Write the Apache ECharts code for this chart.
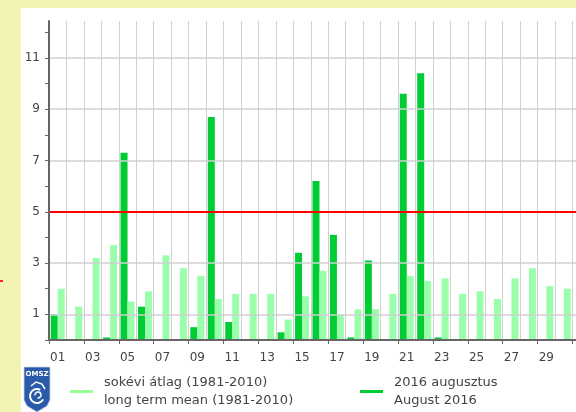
<!DOCTYPE html>
<html><head><meta charset="utf-8">
<script src="https://cdn.jsdelivr.net/npm/echarts@6/dist/echarts.min.js"></script>
<style>html,body{margin:0;padding:0;background:#fff}#c{width:576px;height:412px}</style>
</head><body><div id="c"></div>
<script>
const days = ['01','02','03','04','05','06','07','08','09','10','11','12','13','14','15','16','17','18','19','20','21','22','23','24','25','26','27','28','29','30','31'];
const aug2016 = [1.0,0,0,0.1,7.3,1.3,0,0,0.5,8.7,0.7,0,0,0.3,3.4,6.2,4.1,0.1,3.1,0,9.6,10.4,0.1,0,0,0,0,0,0,0,0];
const longTermMean = [2.0,1.3,3.2,3.7,1.5,1.9,3.3,2.8,2.5,1.6,1.8,1.8,1.8,0.8,1.7,2.7,1.0,1.2,1.2,1.8,2.5,2.3,2.4,1.8,1.9,1.6,2.4,2.8,2.1,2.0,2.0];
const gridValues = [1,3,7,9,11];
const thresholdValue = 5;
const nameMean = 'sokévi átlag (1981-2010)\nlong term mean (1981-2010)';
const nameAug = '2016 augusztus\nAugust 2016';

const chart = echarts.init(document.getElementById('c'), null, {renderer:'canvas'});
const font = 'DejaVu Sans';
const noZero = arr => arr.map(v => v === 0 ? null : v);
chart.setOption({
  animation:false,
  backgroundColor:'#ffffff',
  textStyle:{fontFamily:font},
  graphic:[
    {type:'rect',shape:{x:0,y:0,width:576,height:8},style:{fill:'#f3f3b3'},z:-10,silent:true},
    {type:'rect',shape:{x:0,y:0,width:21,height:412},style:{fill:'#f3f3b3'},z:-10,silent:true},
    {type:'rect',shape:{x:0,y:280,width:3,height:2},style:{fill:'#ff2020'},silent:true},
    {type:'polygon',shape:{points:[[24,367],[50,367],[50,400],[47,406],[37,412],[27,406],[24,400]]},style:{fill:'#2a5aa8',stroke:'#c8d4ea',lineWidth:0.8},silent:true},
    {type:'text',x:37,y:374,style:{text:'OMSZ',fill:'#ffffff',font:'bold 7px "DejaVu Sans"',align:'center',verticalAlign:'middle'},silent:true},
    {type:'arc',shape:{cx:37,cy:396,r:7,startAngle:0.5,endAngle:5.2},style:{stroke:'#ffffff',lineWidth:2,fill:null},silent:true},
    {type:'arc',shape:{cx:38,cy:395,r:3,startAngle:3,endAngle:8},style:{stroke:'#ffffff',lineWidth:1.5,fill:null},silent:true},
    {type:'polyline',shape:{points:[[31,386],[36,382],[42,384],[45,389]]},style:{stroke:'#ffffff',lineWidth:1.5},silent:true}
  ],
  legend:[
    {data:[{name:nameMean,itemStyle:{color:'#99ff99'}}],left:70,top:374,padding:0,icon:'rect',itemWidth:23,itemHeight:3,
     textStyle:{fontFamily:font,fontSize:13,color:'#444',lineHeight:17.5,padding:[0,0,0,6]},selectedMode:false},
    {data:[{name:nameAug,itemStyle:{color:'#00cc33'}}],left:360,top:374,padding:0,icon:'rect',itemWidth:23,itemHeight:3,
     textStyle:{fontFamily:font,fontSize:13,color:'#444',lineHeight:17.5,padding:[0,0,0,6]},selectedMode:false}
  ],
  grid:{left:49,width:541,top:21,height:319,containLabel:false,outerBoundsMode:'none'},
  xAxis:[
    {type:'category',data:days,boundaryGap:true,z:0,
     axisLine:{show:false},axisTick:{show:false},axisLabel:{show:false},
     splitLine:{show:true,interval:0,lineStyle:{color:'#d0d0d0',width:1}}},
    {type:'category',data:days,boundaryGap:true,position:'bottom',z:6,
     axisLine:{show:true,lineStyle:{color:'#666',width:2}},
     axisTick:{show:true,interval:1,length:4,lineStyle:{color:'#666'}},
     axisLabel:{interval:(i)=> i%2===0 && i<30,color:'#444',fontFamily:font,fontSize:12,margin:12},
     splitLine:{show:false}}
  ],
  yAxis:{type:'value',min:0,max:12.44,interval:1,z:6,
    axisLine:{show:true,lineStyle:{color:'#666',width:2}},
    axisTick:{show:true,length:4,lineStyle:{color:'#666'}},
    axisLabel:{color:'#444',fontFamily:font,fontSize:12,margin:9,showMaxLabel:false,
      formatter:v=> (Math.round(v)===v && v%2===1) ? String(v) : ''},
    splitLine:{show:false}
  },
  series:[
    {type:'line',name:'grid',data:[],z:1,silent:true,
     markLine:{silent:true,symbol:'none',label:{show:false},animation:false,
       lineStyle:{color:'#d0d0d0',type:'solid',width:1.5},
       data:gridValues.map(v=>({yAxis:v}))}},
    {type:'bar',name:nameAug,data:noZero(aug2016),barWidth:7,barGap:'0%',z:3,
     itemStyle:{color:'#00cc33'}},
    {type:'bar',name:nameMean,data:noZero(longTermMean),barWidth:7,barGap:'0%',z:3,
     itemStyle:{color:'#99ffaa'}},
    {type:'line',name:'threshold',data:[],z:10,silent:true,
     markLine:{silent:true,symbol:'none',label:{show:false},animation:false,
       lineStyle:{color:'#ff0000',type:'solid',width:2},
       data:[{yAxis:thresholdValue}]}}
  ]
});
</script></body></html>
